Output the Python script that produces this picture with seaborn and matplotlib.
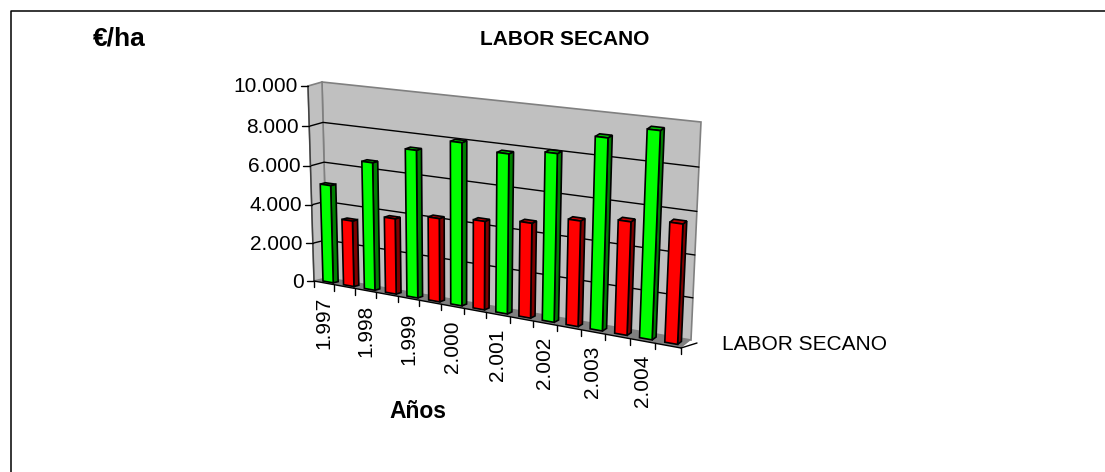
import numpy as np
import pandas as pd
import seaborn as sns
import matplotlib
matplotlib.use("Agg")
import matplotlib.pyplot as plt
from matplotlib.patches import Polygon, Rectangle
from matplotlib.transforms import Transform, IdentityTransform

years = ["1.997", "1.998", "1.999", "2.000", "2.001", "2.002", "2.003", "2.004"]
green_values = [5050, 6500, 7400, 8050, 7800, 8100, 9100, 9700]
red_values = [3400, 3850, 4200, 4400, 4650, 5100, 5400, 5640]
y_ticks = [0, 2000, 4000, 6000, 8000, 10000]
y_tick_labels = ["0", "2.000", "4.000", "6.000", "8.000", "10.000"]

W, H = 1105, 472
sns.set_style("white")
plt.rcParams["font.family"] = ["Liberation Sans", "DejaVu Sans"]
plt.rcParams["text.color"] = "black"

XMIN, XMAX, YMIN, YMAX = -0.5, 7.5, 0, 10000
# picture corners of the front and back planes of the 3-D box
FRONT = np.array([[314, 281], [681, 348], [691, 130], [308, 86]], float)
BACK = np.array([[327, 278], [691, 340], [701, 122], [322, 82]], float)


def homography(corners):
    src = [(XMIN, YMIN), (XMAX, YMIN), (XMAX, YMAX), (XMIN, YMAX)]
    A, b = [], []
    for (x, y), (u, v) in zip(src, corners):
        A.append([x, y, 1, 0, 0, 0, -u * x, -u * y]); b.append(u)
        A.append([0, 0, 0, x, y, 1, -v * x, -v * y]); b.append(v)
    return np.append(np.linalg.solve(np.array(A), np.array(b)), 1).reshape(3, 3)


class Proj(Transform):
    """Data (category position, value) at a depth 0..1 -> display pixels."""
    input_dims = output_dims = 2
    is_affine = False
    has_inverse = False

    def __init__(self, depth):
        super().__init__()
        self.M = homography(FRONT + (BACK - FRONT) * depth)

    def transform_non_affine(self, xy):
        xy = np.asarray(xy, float)
        p = np.c_[xy, np.ones(len(xy))] @ self.M.T
        return np.c_[p[:, 0] / p[:, 2], H - p[:, 1] / p[:, 2]]


def pt(x, y, d):
    return Proj(d).transform_non_affine(np.array([[x, y]]))[0]


def poly(pts, **kw):
    return Polygon(np.array(pts), closed=True, transform=IdentityTransform(), clip_on=False, **kw)


df = pd.DataFrame({
    "Año": years * 2,
    "€/ha": green_values + red_values,
    "serie": ["verde"] * 8 + ["rojo"] * 8,
})

fig = plt.figure(figsize=(W / 100, H / 100), dpi=100)
fig.patch.set_facecolor("white")
tr = IdentityTransform()
# outer frame: only its top and left edges fall inside the picture
fig.add_artist(plt.Line2D([10.5, 10.5, W], [0, H - 10.5, H - 10.5], transform=tr, color="black", lw=1.1))
ax = fig.add_axes([314 / W, 1 - 348 / H, (681 - 314) / W, (348 - 86) / H])

sns.barplot(data=df, x="Año", y="€/ha", hue="serie", hue_order=["verde", "rojo"],
            palette={"verde": "#00FF00", "rojo": "#FF0000"}, width=1, gap=0.5,
            saturation=1, legend=False, ax=ax, edgecolor="black", linewidth=1.2)
ax.set_xlim(XMIN, XMAX)
ax.set_ylim(YMIN, YMAX)
ax.set_axis_off()

# walls and floor
ax.add_patch(poly([pt(XMIN, YMIN, 1), pt(XMAX, YMIN, 1), pt(XMAX, YMAX, 1), pt(XMIN, YMAX, 1)],
                  fc="#C0C0C0", ec="#808080", lw=1.2, zorder=1))
ax.add_patch(poly([pt(XMIN, YMIN, 0), pt(XMIN, YMIN, 1), pt(XMIN, YMAX, 1), pt(XMIN, YMAX, 0)],
                  fc="#C0C0C0", ec="#808080", lw=1.2, zorder=1))
ax.add_patch(poly([pt(XMIN, YMIN, 0), pt(XMAX, YMIN, 0), pt(XMAX, YMIN, 1), pt(XMIN, YMIN, 1)],
                  fc="#808080", ec="none", zorder=1))

# gridlines
for v in y_ticks[1:-1]:
    pts = np.array([pt(XMIN, v, 0), pt(XMIN, v, 1), pt(XMAX, v, 1)])
    ax.plot(pts[:, 0], pts[:, 1], color="black", lw=1, transform=tr, clip_on=False, zorder=2)

# axes lines and ticks
edge = np.array([pt(XMIN, YMIN, 0), pt(XMIN, YMAX, 0)])
ax.plot(edge[:, 0], edge[:, 1], color="#404040", lw=1, transform=tr, clip_on=False, zorder=2)
edge = np.array([pt(XMIN, YMIN, 0), pt(XMAX, YMIN, 0)])
ax.plot(edge[:, 0], edge[:, 1], color="black", lw=1, transform=tr, clip_on=False, zorder=2)
for v, lab in zip(y_ticks, y_tick_labels):
    a = pt(XMIN, v, 0)
    ax.plot([a[0] - 7, a[0]], [a[1], a[1]], color="black", lw=1, transform=tr, clip_on=False, zorder=2)
    ax.text(a[0] - 10, a[1] - 1, lab, ha="right", va="center", fontsize=15, transform=tr, clip_on=False)
for s in np.arange(XMIN, XMAX + 0.01, 0.5):
    a = pt(s, YMIN, 0)
    ax.plot([a[0], a[0]], [a[1], a[1] - 6], color="black", lw=1, transform=tr, clip_on=False, zorder=2)
for i, lab in enumerate(years):
    a = pt(i - 0.25, YMIN, 0)
    ax.text(a[0], a[1] - 14, lab, rotation=90, ha="center", va="top", fontsize=15,
            transform=tr, clip_on=False)
a, b = pt(XMAX, YMIN, 0), pt(XMAX, YMIN, 1)
ax.plot([a[0], b[0] + 6], [a[1], b[1] - 3], color="black", lw=1, transform=tr, clip_on=False, zorder=2)

# 3-D bars
D0, D1 = 0.3, 0.68
bars = [p for p in ax.patches if isinstance(p, Rectangle)]
for bar in bars:
    x0, w, h = bar.get_x(), bar.get_width(), bar.get_height()
    fc = np.array(bar.get_facecolor()[:3])
    z = 5 + x0
    bar.set_transform(Proj(D0))
    bar.set_clip_on(False)
    bar.set_zorder(z + 0.2)
    ax.add_patch(poly([pt(x0 + w, 0, D0), pt(x0 + w, 0, D1), pt(x0 + w, h, D1), pt(x0 + w, h, D0)],
                      fc=fc * 0.5, ec="black", lw=1.2, zorder=z))
    ax.add_patch(poly([pt(x0, h, D0), pt(x0 + w, h, D0), pt(x0 + w, h, D1), pt(x0, h, D1)],
                      fc=fc * 0.75, ec="black", lw=1.2, zorder=z))

ax.text(119.5, H - 38, "€/ha", fontsize=19, fontweight="bold", ha="center", va="center", transform=tr)
ax.text(565, H - 39.5, "LABOR SECANO", fontsize=15, fontweight="bold", ha="center", va="center", transform=tr)
ax.text(418, H - 412, "Años", fontsize=16.5, fontweight="bold", ha="center", va="center", transform=tr)
ax.text(722, H - 345, "LABOR SECANO", fontsize=15, ha="left", va="center", transform=tr)

fig.savefig("out.png", dpi=100)
